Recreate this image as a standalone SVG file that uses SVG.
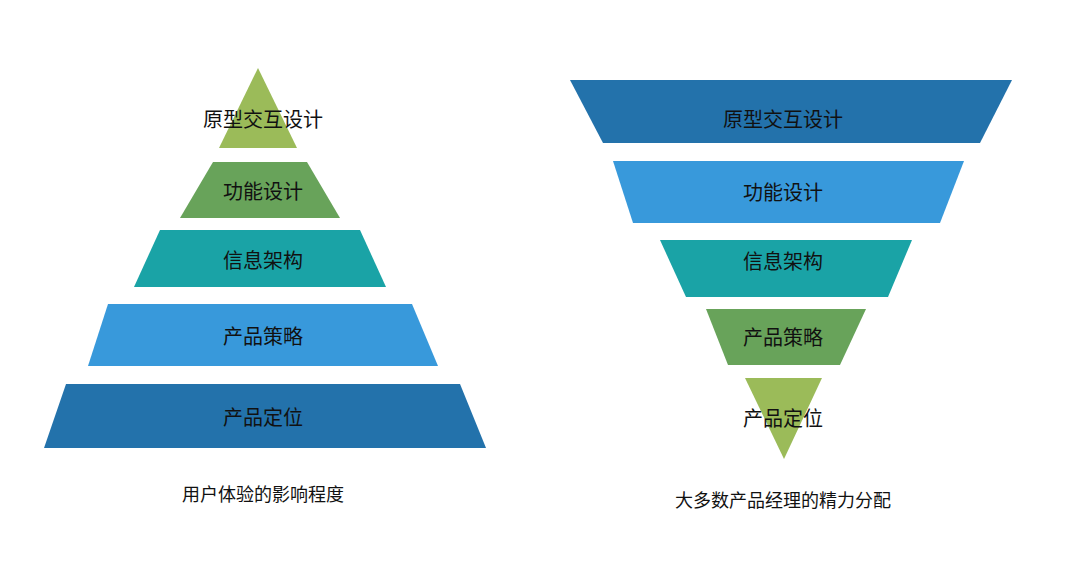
<svg xmlns="http://www.w3.org/2000/svg" width="1080" height="562" viewBox="0 0 1080 562">
<style>
text{font-family:"Noto Sans CJK SC","Noto Sans",sans-serif;font-size:20px;fill:#111;text-anchor:middle;dominant-baseline:central}
.cap{font-size:18px}
.c1{fill:#2372ab}.c2{fill:#3899db}.c3{fill:#1aa3a6}.c4{fill:#68a35a}.c5{fill:#9bbb59}
</style>
<rect width="1080" height="562" fill="#fff"/>
<g id="left">
<g id="l1"><polygon class="c5" points="258,68 297,148 219,148"/><text x="263" y="118">原型交互设计</text></g>
<g id="l2"><polygon class="c4" points="213,162 307,162 340,218 180,218"/><text x="263" y="190">功能设计</text></g>
<g id="l3"><polygon class="c3" points="160,230 360,230 386,287 134,287"/><text x="263" y="259">信息架构</text></g>
<g id="l4"><polygon class="c2" points="108,304 412,304 438,366 88,366"/><text x="263" y="335">产品策略</text></g>
<g id="l5"><polygon class="c1" points="66,384 460,384 486,448 44,448"/><text x="263" y="416">产品定位</text></g>
<text class="cap" x="263" y="493">用户体验的影响程度</text>
</g>
<g id="right">
<g id="r1"><polygon class="c1" points="570,80 1012,80 980,143 603,143"/><text x="783" y="118">原型交互设计</text></g>
<g id="r2"><polygon class="c2" points="613,161 964,161 940,223 633,223"/><text x="783" y="191">功能设计</text></g>
<g id="r3"><polygon class="c3" points="660,240 912,240 888,297 686,297"/><text x="783" y="260">信息架构</text></g>
<g id="r4"><polygon class="c4" points="706,309 866,309 840,365 728,365"/><text x="783" y="336">产品策略</text></g>
<g id="r5"><polygon class="c5" points="745,378 822,378 784,459"/><text x="783" y="417">产品定位</text></g>
<text class="cap" x="783" y="499">大多数产品经理的精力分配</text>
</g>
<g id="connectors"/>
</svg>
